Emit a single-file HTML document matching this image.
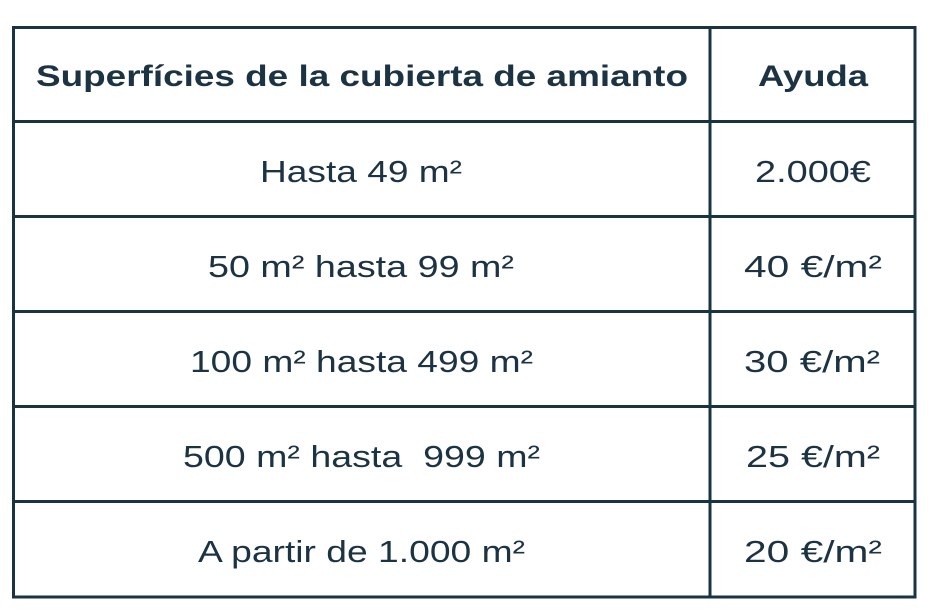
<!DOCTYPE html>
<html><head><meta charset="utf-8"><style>html,body{margin:0;padding:0;background:#fff}svg{display:block}</style></head>
<body>
<svg width="934" height="615" xmlns="http://www.w3.org/2000/svg">
<rect width="934" height="615" fill="#fff"/>
<g stroke="#1a3343" stroke-width="3" fill="none">
<rect x="13.5" y="27.5" width="901.5" height="569.5"/>
<line x1="710" y1="27" x2="710" y2="597"/>
<line x1="13" y1="121.5" x2="915" y2="121.5"/>
<line x1="13" y1="216.5" x2="915" y2="216.5"/>
<line x1="13" y1="311.5" x2="915" y2="311.5"/>
<line x1="13" y1="406.5" x2="915" y2="406.5"/>
<line x1="13" y1="501.5" x2="915" y2="501.5"/>
</g>
<g fill="#1c3343" font-family="Liberation Sans, sans-serif" font-size="31">
<text x="36" y="86" font-size="30" font-weight="bold" textLength="652" lengthAdjust="spacingAndGlyphs">Superfícies de la cubierta de amianto</text>
<text x="758" y="86" font-size="30" font-weight="bold" textLength="110" lengthAdjust="spacingAndGlyphs">Ayuda</text>
<text x="260" y="182" textLength="202" lengthAdjust="spacingAndGlyphs">Hasta 49 m²</text>
<text x="208" y="277" textLength="306" lengthAdjust="spacingAndGlyphs">50 m² hasta 99 m²</text>
<text x="190" y="372" textLength="343" lengthAdjust="spacingAndGlyphs">100 m² hasta 499 m²</text>
<text x="183" y="467" textLength="357" lengthAdjust="spacingAndGlyphs" xml:space="preserve">500 m² hasta  999 m²</text>
<text x="198" y="562" textLength="327" lengthAdjust="spacingAndGlyphs">A partir de 1.000 m²</text>
<text x="755" y="182" textLength="116" lengthAdjust="spacingAndGlyphs">2.000€</text>
<text x="744" y="277" textLength="138" lengthAdjust="spacingAndGlyphs">40 €/m²</text>
<text x="744" y="372" textLength="136" lengthAdjust="spacingAndGlyphs">30 €/m²</text>
<text x="746" y="467" textLength="134" lengthAdjust="spacingAndGlyphs">25 €/m²</text>
<text x="744" y="562" textLength="138" lengthAdjust="spacingAndGlyphs">20 €/m²</text>
</g>
</svg>
</body></html>
